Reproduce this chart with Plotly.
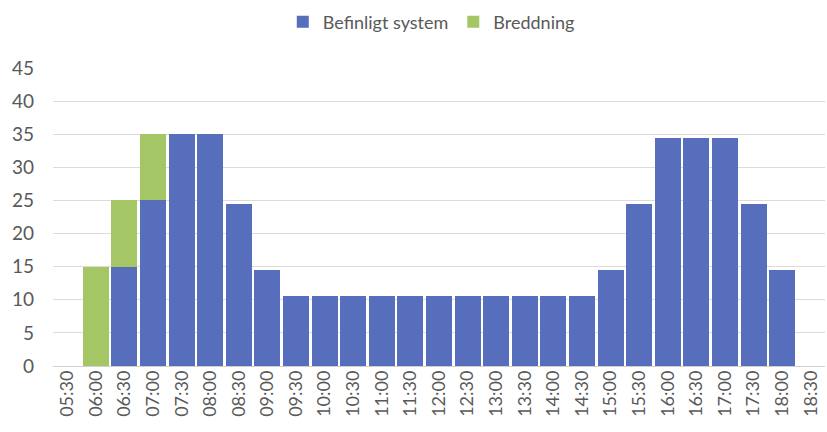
import plotly.graph_objects as go

times = ["05:30", "06:00", "06:30", "07:00", "07:30", "08:00", "08:30", "09:00", "09:30",
         "10:00", "10:30", "11:00", "11:30", "12:00", "12:30", "13:00", "13:30", "14:00",
         "14:30", "15:00", "15:30", "16:00", "16:30", "17:00", "17:30", "18:00", "18:30"]
befintligt = [0, 0, 15, 25, 35, 35, 24.5, 14.5, 10.5,
              10.5, 10.5, 10.5, 10.5, 10.5, 10.5, 10.5, 10.5, 10.5,
              10.5, 14.5, 24.5, 34.5, 34.5, 34.5, 24.5, 14.5, 0]
breddning = [0, 15, 10, 10, 0, 0, 0, 0, 0,
             0, 0, 0, 0, 0, 0, 0, 0, 0,
             0, 0, 0, 0, 0, 0, 0, 0, 0]
y_ticks = [0, 5, 10, 15, 20, 25, 30, 35, 40, 45]

blue = "rgb(86,110,188)"
green = "rgb(165,198,100)"
txt = "#595959"
font_family = "Lato, 'Open Sans', sans-serif"

fig = go.Figure()
fig.add_trace(go.Bar(x=times, y=befintligt, name="Befinligt system",
                     marker=dict(color=blue, line=dict(width=0))))
fig.add_trace(go.Bar(x=times, y=breddning, name="Breddning",
                     marker=dict(color=green, line=dict(width=0))))

fig.update_layout(
    barmode="stack",
    bargap=0.09,
    width=827, height=432,
    margin=dict(l=53, r=2, t=68, b=66, autoexpand=False),
    paper_bgcolor="white", plot_bgcolor="white",
    font=dict(family=font_family, color=txt, size=18),
    showlegend=True,
    legend=dict(orientation="h", x=0.49, xanchor="center", y=1.154, yanchor="middle",
                font=dict(size=18, color=txt), itemwidth=30, traceorder="normal"),
    xaxis=dict(type="category", tickangle=-90, tickfont=dict(size=18, color=txt),
               showgrid=False, showline=False, ticks="", range=[-0.5, 26.5]),
    yaxis=dict(range=[0, 45], tickvals=y_ticks, showgrid=True, gridcolor="#dcdcdc",
               gridwidth=1, zeroline=True, zerolinecolor="#d0d0d0", zerolinewidth=1,
               ticks="", tickfont=dict(size=19, color=txt), ticklabelstandoff=18),
)

fig.write_html("out.html")
